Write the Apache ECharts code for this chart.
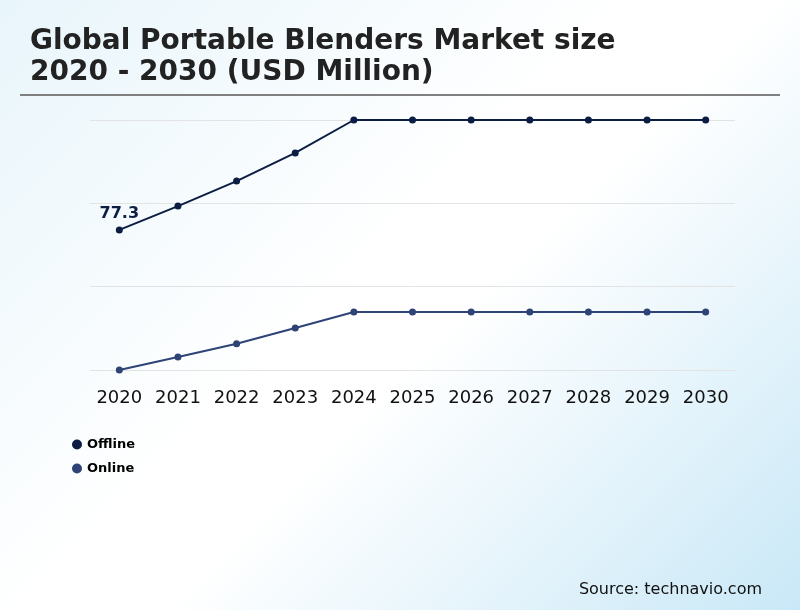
<!DOCTYPE html>
<html>
<head>
    <meta charset="utf-8">
    <title>Global Portable Blenders Market</title>
    <script src="https://cdn.jsdelivr.net/npm/echarts@6/dist/echarts.min.js"></script>
    <style>
        html, body { margin: 0; padding: 0; }
        #chart {
            width: 800px;
            height: 610px;
            background: linear-gradient(135deg, #e8f5fb 0%, #ffffff 45%, #ffffff 55%, #c9e8f7 100%);
        }
    </style>
</head>
<body>
    <div id="chart"></div>
    <script type="text/javascript">
        // data (y axis is hidden, only 77.3 is printed)
        var years = ['2020', '2021', '2022', '2023', '2024', '2025', '2026', '2027', '2028', '2029', '2030'];
        var offline = [77.3, 83.3, 89.6, 96.7, 105, 105, 105, 105, 105, 105, 105];
        var online = [42, 45.3, 48.6, 52.6, 56.6, 56.6, 56.6, 56.6, 56.6, 56.6, 56.6];

        var myChart = echarts.init(document.getElementById('chart'));

        var option = {
            backgroundColor: 'transparent',
            textStyle: { fontFamily: 'DejaVu Sans' },
            title: [{
                text: 'Global Portable Blenders Market size\n2020 - 2030 (USD Million)',
                left: 25,
                top: 21,
                textStyle: {
                    fontSize: 28,
                    fontWeight: 'bold',
                    color: '#222222',
                    lineHeight: 31
                }
            }, {
                text: 'Source: technavio.com',
                right: 33,
                top: 577,
                textStyle: { fontSize: 16, fontWeight: 'normal', color: '#111111' }
            }],
            graphic: [{
                type: 'line',
                shape: { x1: 20, y1: 95, x2: 780, y2: 95 },
                style: { stroke: '#808080', lineWidth: 2 }
            }],
            legend: {
                orient: 'vertical',
                left: 67,
                top: 433,
                itemGap: 11,
                itemWidth: 10,
                itemHeight: 10,
                icon: 'circle',
                textStyle: { fontSize: 13, fontWeight: 'bold', color: '#000' },
                data: ['Offline', 'Online']
            },
            grid: {
                left: 90,
                top: 120,
                width: 645,
                height: 250,
                containLabel: false
            },
            xAxis: {
                type: 'category',
                data: years,
                boundaryGap: true,
                axisLine: { show: false },
                axisTick: { show: false },
                axisLabel: { fontSize: 18, color: '#111', margin: 19, interval: 0 }
            },
            yAxis: {
                type: 'value',
                min: 42,
                max: 105,
                interval: 21,
                axisLabel: { show: false },
                axisLine: { show: false },
                axisTick: { show: false },
                splitLine: { lineStyle: { color: '#e3e3e3', width: 1 } }
            },
            series: [{
                name: 'Offline',
                type: 'line',
                data: offline,
                color: '#0c1d44',
                symbol: 'circle',
                symbolSize: 7,
                lineStyle: { width: 2 },
                label: {
                    show: true,
                    position: 'top',
                    offset: [0, 0],
                    fontSize: 16,
                    fontWeight: 'bold',
                    color: '#0c1d44',
                    formatter: function (p) { return p.dataIndex === 0 ? p.value : ''; }
                }
            }, {
                name: 'Online',
                type: 'line',
                data: online,
                color: '#2e4476',
                symbol: 'circle',
                symbolSize: 7,
                lineStyle: { width: 2 }
            }]
        };

        myChart.setOption(option);
    </script>
</body>
</html>
